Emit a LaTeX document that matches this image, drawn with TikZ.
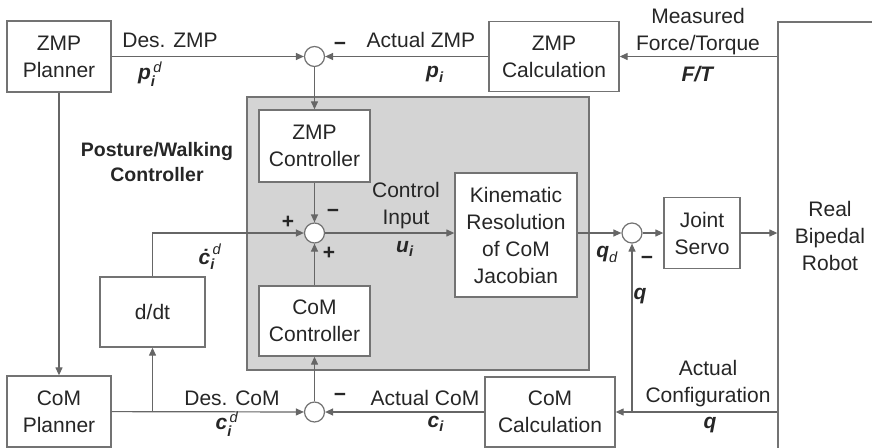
\documentclass[tikz,border=0pt]{standalone}
\usepackage{amsmath}
\usepackage{fontspec}
\setmainfont{Liberation Sans}
\usepackage{xcolor}
\usepackage{tikz}
\usetikzlibrary{positioning, arrows.meta, calc}

\newcommand{\bvec}[1]{\textbf{\textit{#1}}}

\begin{document}
\begin{tikzpicture}[
    x=1pt, y=-1pt,
    every node/.style={font=\fontsize{21}{27}\selectfont, text=black!85},
    block/.style={draw=black!55, line width=1.3pt, fill=white, align=center, inner sep=0pt},
    sum/.style={circle, draw=black!55, line width=1.2pt, fill=white, minimum size=20pt, inner sep=0pt},
    arrow/.style={-{Triangle[length=8pt, width=7pt]}, line width=1.2pt, draw=black!60},
    lbl/.style={inner sep=0pt, align=center},
  ]
  \useasboundingbox (0,0) rectangle (872,447);

  % ---- Controller area ----
  \node[draw=black!55, fill=black!17, line width=1.3pt, minimum width=342pt, minimum height=273pt] (ctrlbox) at (418,233.5) {};
  \node[lbl, font=\fontsize{19.5}{25}\selectfont\bfseries] (pwlabel) at (157,162) {Posture/Walking\\Controller};

  % ---- Blocks ----
  \node[block, minimum width=104pt, minimum height=71pt] (zmpplan) at (59,56.5) {ZMP\\Planner};
  \node[block, minimum width=130pt, minimum height=70pt] (zmpcalc) at (554,56.5) {ZMP\\Calculation};
  \node[block, minimum width=104pt, minimum height=428pt] (robot) at (830,236) {Real\\Bipedal\\Robot};
  \node[block, minimum width=111pt, minimum height=72pt] (zmpctrl) at (314.5,146) {ZMP\\Controller};
  \node[block, minimum width=111pt, minimum height=70pt] (comctrl) at (314.5,321) {CoM\\Controller};
  \node[block, minimum width=105pt, minimum height=70pt] (ddt) at (152.5,312) {d/dt};
  \node[block, minimum width=104pt, minimum height=71pt] (complan) at (59,411.5) {CoM\\Planner};
  \node[block, minimum width=130pt, minimum height=70pt] (comcalc) at (550,412) {CoM\\Calculation};
  \node[block, minimum width=122pt, minimum height=124pt] (kin) at (516,235) {Kinematic\\Resolution\\of CoM\\Jacobian};
  \node[block, minimum width=76pt, minimum height=71pt] (servo) at (702,233) {Joint\\Servo};

  % ---- Summing points ----
  \node[sum] (sumzmp) at (314.5,56.5) {};
  \node[sum] (sumu) at (314.5,233) {};
  \node[sum] (sumcom) at (314.5,412) {};
  \node[sum] (sumq) at (632,233) {};

  % ---- ZMP loop ----
  \draw[arrow] (zmpplan) -- (sumzmp);
  \draw[arrow] (zmpcalc) -- (sumzmp);
  \draw[arrow] (robot.west |- zmpcalc) -- (zmpcalc.east);
  \draw[arrow] (sumzmp) -- (zmpctrl);
  \draw[arrow] (zmpctrl) -- (sumu);

  % ---- Control input and joint loop ----
  \draw[arrow] (comctrl) -- (sumu);
  \draw[arrow] (ddt.north) |- (sumu.west);
  \draw[arrow] (sumu) -- (sumu -| kin.west);
  \draw[arrow] (kin.east |- sumq) -- (sumq.west);
  \draw[arrow] (sumq) -- (servo);
  \draw[arrow] (servo) -- (servo -| robot.west);

  % ---- CoM loop ----
  \draw[arrow] (zmpplan) -- (complan);
  \draw[arrow] (complan) -- (sumcom);
  \coordinate (ddtbranch) at (ddt |- sumcom);
  \draw[arrow] (ddtbranch) -- (ddt);
  \draw[arrow] (comcalc) -- (sumcom);
  \draw[arrow] (sumcom) -- (comctrl);
  \draw[arrow] (robot.west |- comcalc) -- (comcalc.east);
  \coordinate (qbranch) at (sumq |- comcalc);
  \draw[arrow] (qbranch) -- (sumq);

  % ---- Signal labels ----
  \node[lbl] (deszmp) at (170,40) {Des. ZMP};
  \node[lbl] (pdes) at (150,74) {$\bvec{p}_{\bvec{i}}^{\,\textit{d}}$};
  \node[lbl] (actzmp) at (421,40) {Actual ZMP};
  \node[lbl] (pact) at (435,74) {$\bvec{p}_{\bvec{i}}$};
  \node[lbl] (meas) at (698,32) {Measured\\Force/Torque};
  \node[lbl] (ft) at (698,74) {\bvec{F/T}};
  \node[lbl] (minzmp) at (340,46) {\textbf{−}};
  \node[lbl] (ctrlin) at (406,206) {Control\\Input};
  \node[lbl] (uin) at (405,249) {$\bvec{u}_{\bvec{i}}$};
  \node[lbl] (plusd) at (288,222) {\textbf{+}};
  \node[lbl] (minu) at (333,213) {\textbf{−}};
  \node[lbl] (plusc) at (329,253) {\textbf{+}};
  \node[lbl] (cdot) at (210,257) {$\bvec{\.c}_{\bvec{i}}^{\,\textit{d}}$};
  \node[lbl] (qd) at (607,254) {$\bvec{q}_{\textit{d}}$};
  \node[lbl] (minq) at (647,260) {\textbf{−}};
  \node[lbl] (qfb) at (640,296) {\bvec{q}};
  \node[lbl] (actconf) at (708,384) {Actual\\Configuration};
  \node[lbl] (qconf) at (710,425) {\bvec{q}};
  \node[lbl] (descom) at (232,398) {Des. CoM};
  \node[lbl] (cdes) at (227,424) {$\bvec{c}_{\bvec{i}}^{\,\textit{d}}$};
  \node[lbl] (mincom) at (340,397) {\textbf{−}};
  \node[lbl] (actcom) at (425,398) {Actual CoM};
  \node[lbl] (cact) at (436,424) {$\bvec{c}_{\bvec{i}}$};

\end{tikzpicture}
\end{document}
